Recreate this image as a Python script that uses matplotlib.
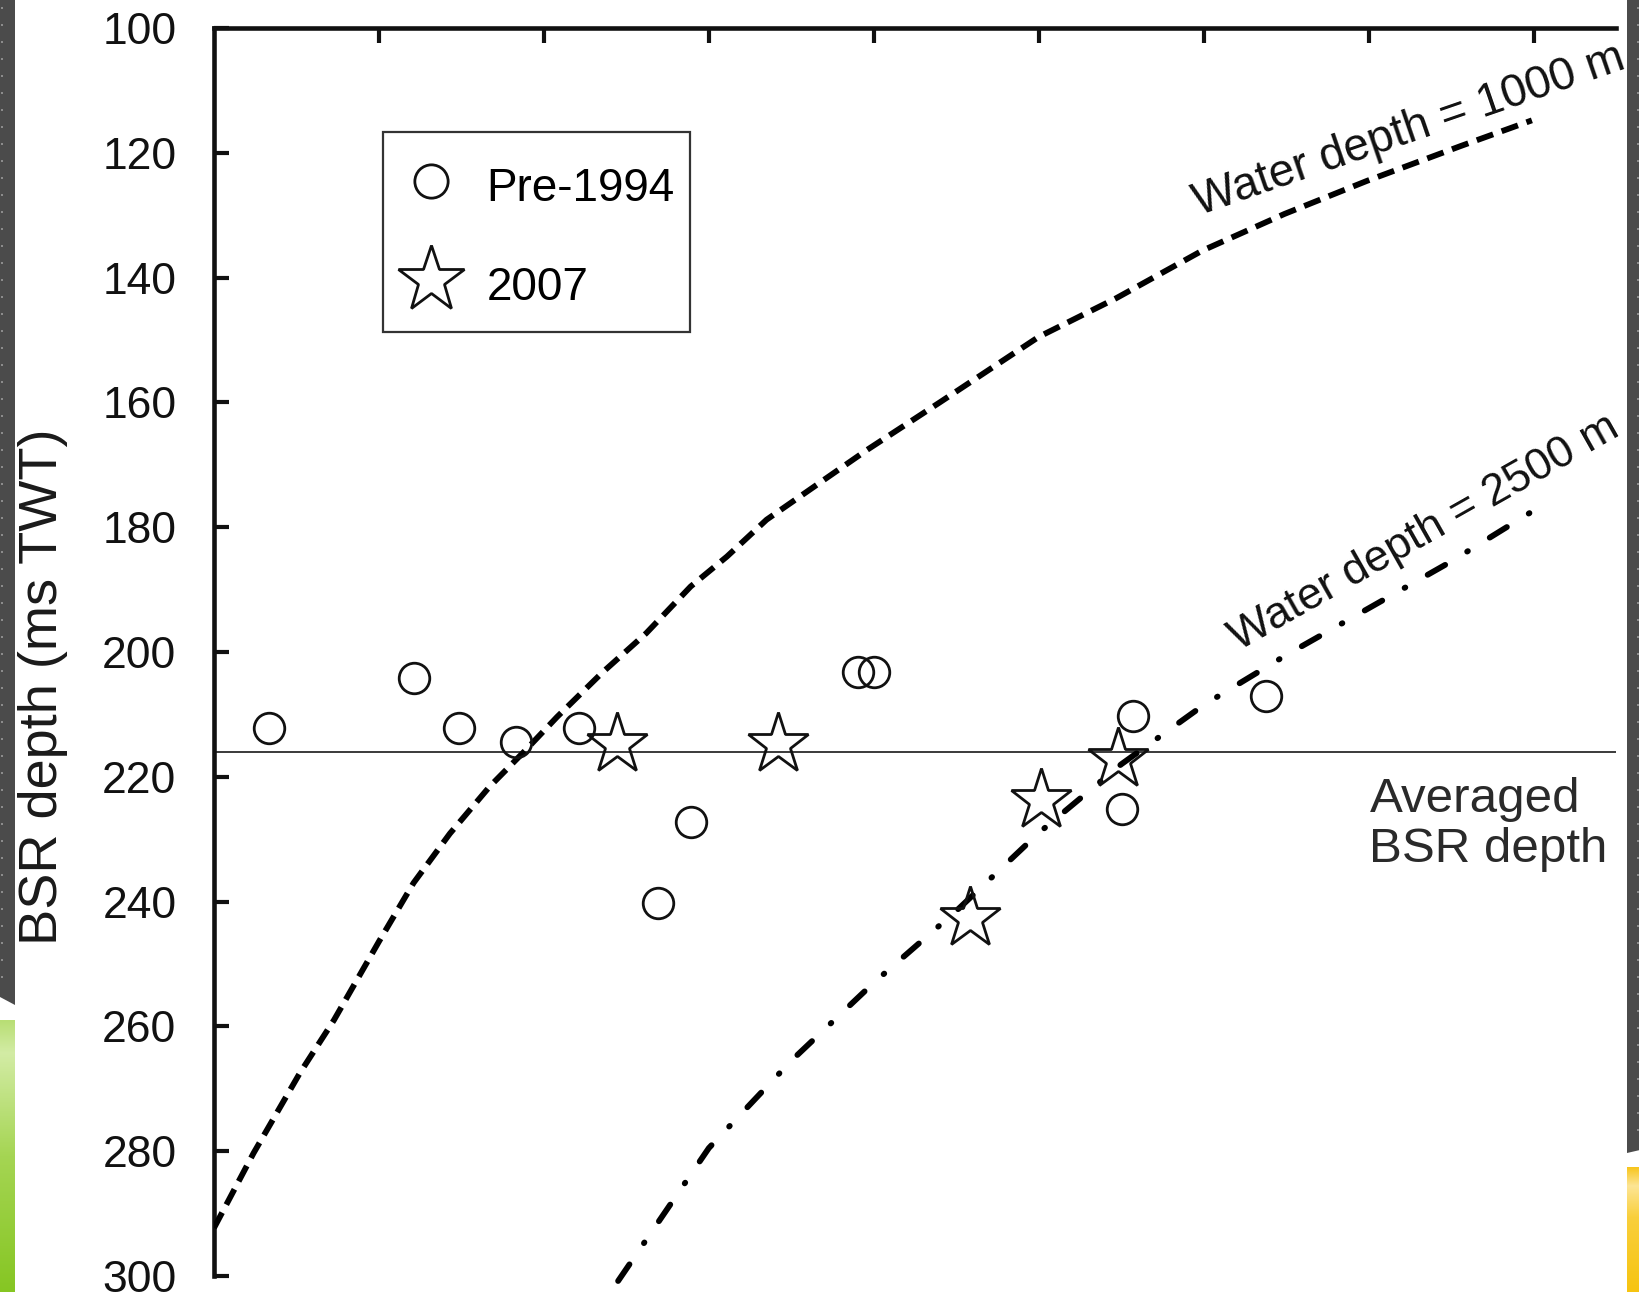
import numpy as np
import matplotlib
matplotlib.use('Agg')
import matplotlib.pyplot as plt
from matplotlib.patches import Polygon, Rectangle
from matplotlib.colors import LinearSegmentedColormap

plt.rcParams['font.family'] = ['Liberation Sans', 'DejaVu Sans']
plt.rcParams['lines.scale_dashes'] = False

# ---------------- data ----------------
pre1994_x = [0.335, 1.214, 1.484, 1.828, 2.215, 2.89, 2.694, 3.906, 4.0, 5.57, 5.506, 6.38]
pre1994_y = [212.2, 204.2, 212.2, 214.4, 212.2, 227.2, 240.3, 203.2, 203.2, 210.3, 225.1, 207.1]

y2007_x = [2.445, 3.418, 4.582, 5.013, 5.481]
y2007_y = [214.7, 214.7, 242.7, 223.7, 217.2]

wd1000_x = [0.0, 0.24, 0.52, 0.727, 1.0, 1.21, 1.43, 1.67, 1.89, 2.08, 2.35, 2.62, 2.89, 3.11,
            3.35, 3.96, 4.4, 5.0, 5.47, 5.99, 6.49, 6.99, 7.56, 7.99]
wd1000_y = [292.3, 280.3, 267.5, 259.0, 246.4, 237.0, 229.1, 221.6, 215.7, 210.4, 203.4, 197.0,
            189.5, 184.7, 178.8, 167.6, 160.0, 149.5, 143.3, 135.7, 129.8, 124.5, 118.9, 114.8]

wd2500_x = [2.45, 3.0, 3.5, 4.0, 4.5, 5.0, 5.5, 6.0, 6.5, 7.0, 7.5, 7.99]
wd2500_y = [300.8, 279.5, 265.5, 253.0, 241.5, 229.0, 218.0, 208.5, 200.5, 193.0, 185.5, 177.5]

avg_bsr = 216.0

yticks = [100, 120, 140, 160, 180, 200, 220, 240, 260, 280, 300]
xticks = [1, 2, 3, 4, 5, 6, 7, 8]

# ---------------- figure ----------------
W, H = 1640, 1292
fig = plt.figure(figsize=(W / 100, H / 100), dpi=100)
fig.patch.set_facecolor('white')

# slide decoration strips
bg = fig.add_axes([0, 0, 1, 1], zorder=-10)
bg.add_patch(Polygon([(0, 0), (15, 0), (15, 1005), (0, 997)], closed=True,
                     facecolor='#4b4b4b', edgecolor='none'))
bg.add_patch(Polygon([(1627, 0), (1640, 0), (1640, 1150), (1627, 1153)], closed=True,
                     facecolor='#4b4b4b', edgecolor='none'))
bg.scatter([2] * 58, np.arange(8, 990, 17), s=1.5, color='#8c8c8c', marker='s', linewidths=0)
bg.scatter([1638.5] * 67, np.arange(8, 1140, 17), s=1.5, color='#8c8c8c', marker='s', linewidths=0)
gcm = LinearSegmentedColormap.from_list('g', [(0, '#b8de74'), (0.12, '#d3eca5'),
                                              (0.5, '#a5d553'), (1, '#86c623')])
ycm = LinearSegmentedColormap.from_list('y', [(0, '#f7c51c'), (0.15, '#fde595'),
                                              (0.4, '#f9cf3c'), (1, '#f6c411')])
grad = np.linspace(0, 1, 256).reshape(-1, 1)
bg.imshow(grad, cmap=gcm, extent=(0, 15, 1292, 1020), aspect='auto', origin='upper')
bg.imshow(grad, cmap=ycm, extent=(1627, 1640, 1292, 1167), aspect='auto', origin='upper')
bg.set_xlim(0, W)
bg.set_ylim(H, 0)
bg.axis('off')

ax = fig.add_axes([214 / W, 16 / H, 1402 / W, 1248 / H])
ax.set_xlim(0, 8.5)
ax.set_ylim(300, 100)

# curves
ax.plot(wd1000_x, wd1000_y, color='black', lw=4.2,
        linestyle=(0, (12.5, 6.5)), dash_capstyle='butt', zorder=3)
ax.plot(wd2500_x, wd2500_y, color='black', lw=4.2,
        linestyle=(0, (14.5, 18.5, 0.6, 18.5)), dash_capstyle='round',
        clip_on=False, zorder=3)

ax.axhline(avg_bsr, color='#3a3a3a', lw=1.4, zorder=2)

ax.plot(pre1994_x, pre1994_y, linestyle='none', marker='o', ms=22,
        mfc='none', mec='#111111', mew=2.0, zorder=5, label='Pre-1994')
ax.plot(y2007_x, y2007_y, linestyle='none', marker='*', ms=46,
        mfc='none', mec='#111111', mew=2.0, zorder=5, label='2007')

# legend (frame drawn as a separate rectangle to match the reference box)
fs_leg = 33
leg = ax.legend(loc='upper left',
                bbox_to_anchor=((398 - 214) / 1402, 1 - (161 - 28) / 1248),
                fontsize=fs_leg, frameon=False, borderpad=0, borderaxespad=0,
                handlelength=1.43, handleheight=1.3, handletextpad=0.5,
                labelspacing=1.06, numpoints=1, markerscale=1.09)
ax.add_patch(Rectangle(((383.3 - 214) / 1402, 1 - (331.7 - 28) / 1248),
                       (690 - 383.3) / 1402, 200 / 1248, transform=ax.transAxes,
                       fill=False, edgecolor='#333333', lw=1.6, zorder=4))

# annotations
ax.text(5.97, 130.0, 'Water depth = 1000 m', fontsize=33, rotation=19,
        rotation_mode='anchor', ha='left', va='baseline', color='#111111')
ax.text(6.21, 199.9, 'Water depth = 2500 m', fontsize=32, rotation=29.5,
        rotation_mode='anchor', ha='left', va='baseline', color='#111111')
ax.text(7.005, 225.6, 'Averaged', fontsize=35.5, ha='left', va='baseline', color='#2a2a2a')
ax.text(7.005, 233.6, 'BSR depth', fontsize=35.5, ha='left', va='baseline', color='#2a2a2a')

# axes styling
for s in ['right', 'bottom']:
    ax.spines[s].set_visible(False)
for s in ['left', 'top']:
    ax.spines[s].set_linewidth(3.3)
    ax.spines[s].set_color('#111111')

ax.xaxis.tick_top()
ax.set_xticks(xticks)
ax.set_xticklabels([])
ax.tick_params(axis='x', direction='in', length=11, width=3.0, color='#111111')
ax.set_yticks(yticks)
ax.set_yticklabels([str(v) for v in yticks])
ax.tick_params(axis='y', direction='in', length=11, width=3.0, color='#111111',
               pad=27, labelsize=32, labelcolor='#111111')

ax.set_ylabel('BSR depth (ms TWT)', fontsize=39, color='#1a1a1a')
ax.yaxis.set_label_coords(-0.104, 0.472)

fig.savefig('out.png', dpi=100, facecolor='white')
